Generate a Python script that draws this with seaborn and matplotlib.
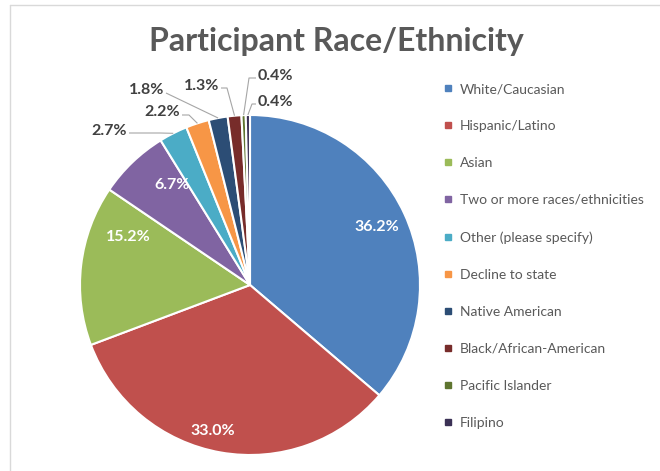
import numpy as np
import matplotlib
matplotlib.use("Agg")
import matplotlib.pyplot as plt
from matplotlib.lines import Line2D
import seaborn as sns

# ---- data ----
categories = ["White/Caucasian", "Hispanic/Latino", "Asian",
              "Two or more races/ethnicities", "Other (please specify)",
              "Decline to state", "Native American", "Black/African-American",
              "Pacific Islander", "Filipino"]
values = [36.2, 33.0, 15.2, 6.7, 2.7, 2.2, 1.8, 1.3, 0.4, 0.4]
value_labels = ["36.2%", "33.0%", "15.2%", "6.7%", "2.7%", "2.2%",
                "1.8%", "1.3%", "0.4%", "0.4%"]
title = "Participant Race/Ethnicity"

colors = ["#4F81BD", "#C0504D", "#9BBB59", "#8064A2", "#4BACC6",
          "#F79646", "#2C4D75", "#772C2A", "#5F7530", "#3B3155"]

# ---- layout (pixel coords, y measured from top) ----
W, H = 660, 471
CX, CY, R = 250, 285, 170
inside_pos = {0: (377, 227), 1: (213, 431), 2: (128, 237), 3: (172, 185)}
# outer labels: (text x, text y, ha, elbow x, elbow y)
outer_pos = {4: (127, 131, "right", 160, 133),
             5: (180, 112, "right", 189, 115),
             6: (164, 90, "right", 166, 93),
             7: (219, 86, "right", 227, 88),
             8: (258, 76, "left", 249, 78),
             9: (258, 102, "left", 252, 104)}

sns.set_theme(style="white")
plt.rcParams["font.family"] = ["Lato", "DejaVu Sans"]

fig = plt.figure(figsize=(W / 100, H / 100), dpi=100)
ax = fig.add_axes([0, 0, 1, 1])

def P(x, y):
    return (x, H - y)

wedges, _ = ax.pie(values, colors=colors, startangle=90, counterclock=False,
                   center=P(CX, CY), radius=R,
                   wedgeprops=dict(edgecolor="white", linewidth=1.5))
ax.set_xlim(0, W)
ax.set_ylim(0, H)
ax.set_aspect("equal")
ax.axis("off")

for i, (x, y) in inside_pos.items():
    ax.text(*P(x, y), value_labels[i], ha="center", va="center",
            color="white", fontsize=11.5, fontweight="bold")

for i, (tx, ty, ha, ex, ey) in outer_pos.items():
    w = wedges[i]
    ang = np.deg2rad((w.theta1 + w.theta2) / 2)
    ax_x = w.center[0] + R * np.cos(ang)
    ax_y = w.center[1] + R * np.sin(ang)
    ax.text(*P(tx, ty), value_labels[i], ha=ha, va="center",
            color="#404040", fontsize=11.5, fontweight="bold")
    sx = tx + 2 if ha == "right" else tx - 2
    xs = [sx, ex, ax_x]
    ys = [H - ey, H - ey, ax_y]
    ax.plot(xs, ys, color="#A6A6A6", lw=0.8, solid_capstyle="butt")

# title
fig.text(336 / W, 1 - 42 / H, title, ha="center", va="center",
         fontsize=23, fontweight="bold", color="#595959")

# legend
handles = [Line2D([0], [0], marker="s", linestyle="none", markersize=4.5,
                  markerfacecolor=c, markeredgecolor=c) for c in colors]
leg = ax.legend(handles, categories, loc="upper left",
                bbox_to_anchor=(442 / W, 1 - 83 / H), frameon=False,
                fontsize=10, labelspacing=1.8, handlelength=0.8,
                handletextpad=0.5, borderpad=0, borderaxespad=0)
for t in leg.get_texts():
    t.set_color("#595959")

# chart frame lines
fig.add_artist(Line2D([10 / W, 10 / W], [0, 1 - 5 / H], transform=fig.transFigure,
                      color="#D9D9D9", lw=1))
fig.add_artist(Line2D([10 / W, 1], [1 - 5 / H, 1 - 5 / H], transform=fig.transFigure,
                      color="#D9D9D9", lw=1))

fig.savefig("out.png", dpi=100)
